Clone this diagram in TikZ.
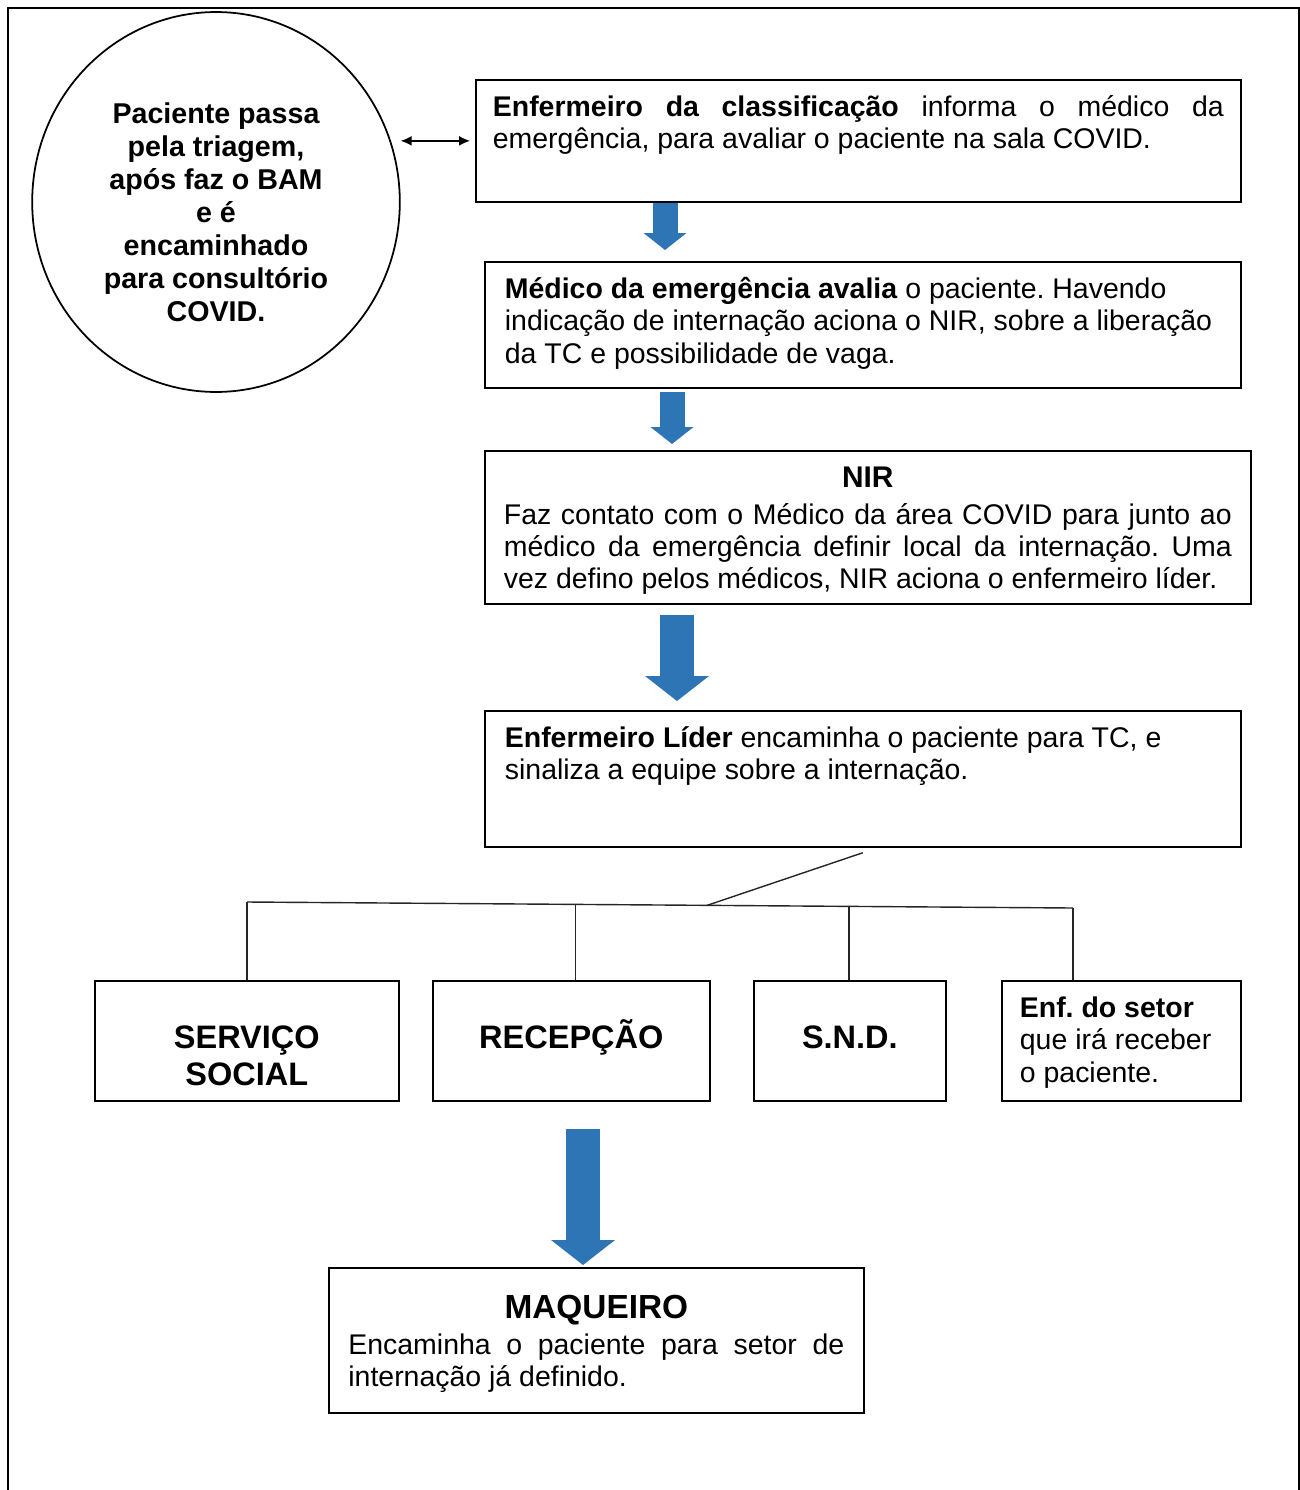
\documentclass[tikz,border=0pt]{standalone}
\usepackage{fontspec}
\setmainfont{Liberation Sans}
\usepackage{tikz}
\usetikzlibrary{shapes,arrows.meta,positioning,calc}

\definecolor{flowblue}{RGB}{46,117,182}
\newcommand{\bodysize}{\fontsize{16.2pt}{18.4pt}\selectfont}
\newcommand{\headsize}{\fontsize{18.5pt}{21pt}\selectfont}
\frenchspacing

\begin{document}
\begin{tikzpicture}[x=0.02cm, y=-0.02cm,
        box/.style={rectangle, draw=black, line width=1pt, anchor=north west, inner ysep=0.28cm, font=\bodysize},
        bluearrow/.style={draw=flowblue, line width=0.5cm, -{Triangle[width=0.86cm, length=0.34cm, line width=0pt]}},
        bigarrow/.style={draw=flowblue, line width=0.67cm, -{Triangle[width=1.28cm, length=0.5cm, line width=0pt]}},
        link/.style={draw=black!85, line width=0.8pt}]

    \useasboundingbox (0,0) rectangle (1300,1490);
    \draw[line width=1pt] (8,8) rectangle (1299,1520);

    % triagem
    \node[ellipse, draw=black, line width=1pt, minimum width=7.32cm, minimum height=7.6cm, inner sep=0pt,
          font={\fontsize{16.3pt}{18.8pt}\selectfont\bfseries}] (triagem) at (216,202)
        {\parbox{5.2cm}{\centering\vspace*{0.4cm}Paciente passa\\ pela triagem,\\ após faz o BAM\\ e é\\ encaminhado\\ para consultório\\ COVID.}};

    % caixas do fluxo
    \node[box, inner xsep=0.34cm] (classif) at (475,79)
        {\parbox[t][1.88cm][t]{14.62cm}{\strut\textbf{Enfermeiro da classificação} informa o médico da\linebreak emergência, para avaliar o paciente na sala COVID.}};
    \node[box, inner xsep=0.4cm] (medico) at (484,261)
        {\parbox[t][1.96cm][t]{14.32cm}{\raggedright\strut\textbf{Médico da emergência avalia} o paciente. Havendo\\ indicação de internação aciona o NIR, sobre a liberação\\ da TC e possibilidade de vaga.}};
    \node[box, inner xsep=0.38cm] (nir) at (484,450)
        {\parbox[t][2.5cm][t]{14.56cm}{{\centering\fontsize{17pt}{19.5pt}\selectfont\bfseries\rule{0pt}{0.46cm}NIR\par}\vspace{0.08cm}Faz contato com o Médico da área COVID para junto ao\linebreak médico da emergência definir local da internação. Uma\linebreak vez defino pelos médicos, NIR aciona o enfermeiro líder.}};
    \node[box, inner xsep=0.4cm] (lider) at (484,710)
        {\parbox[t][2.16cm][t]{14.32cm}{\raggedright\strut\textbf{Enfermeiro Líder} encaminha o paciente para TC, e\\ sinaliza a equipe sobre a internação.}};

    % setores
    \node[box, inner xsep=0.3cm] (servico) at (94,980)
        {\parbox[t][1.84cm][t]{5.48cm}{\centering\headsize\bfseries\rule{0pt}{1.08cm}SERVIÇO\\ SOCIAL}};
    \node[box, inner xsep=0.3cm] (recep) at (432,980)
        {\parbox[t][1.84cm][t]{4.94cm}{\centering\headsize\bfseries\rule{0pt}{1.08cm}RECEPÇÃO}};
    \node[box, inner xsep=0.3cm] (snd) at (753,980)
        {\parbox[t][1.84cm][t]{3.24cm}{\centering\headsize\bfseries\rule{0pt}{1.08cm}S.N.D.}};
    \node[box, inner xsep=0.36cm] (setor) at (1001,980)
        {\parbox[t][1.84cm][t]{4.06cm}{\raggedright\strut\textbf{Enf. do setor}\\ que irá receber\\ o paciente.}};

    \node[box, inner xsep=0.39cm] (maqueiro) at (328,1267)
        {\parbox[t][2.34cm][t]{9.92cm}{{\centering\fontsize{19pt}{22pt}\selectfont\bfseries\rule{0pt}{0.74cm}MAQUEIRO\par}\vspace{0.06cm}Encaminha o paciente para setor de\linebreak internação já definido.}};

    % ligacoes
    \draw[{Latex[length=0.22cm,width=0.2cm]}-{Latex[length=0.22cm,width=0.2cm]}, line width=0.8pt, shorten >=0.1cm]
        (classif.west -| triagem.east) -- (classif.west);

    \draw[bluearrow, shorten >=0.22cm] (classif.south -| 665,0) -- (medico.north -| 665,0);
    \draw[bluearrow, shorten <=0.06cm, shorten >=0.12cm] (medico.south -| 672,0) -- (nir.north -| 672,0);
    \draw[bigarrow, shorten <=0.2cm, shorten >=0.18cm] (nir.south -| 677,0) -- (lider.north -| 677,0);
    \draw[bigarrow, shorten <=0.54cm, shorten >=0.04cm] (recep.south -| 583,0) -- (maqueiro.north -| 583,0);

    \coordinate (busL) at (247,902);
    \coordinate (busR) at (1073,908);
    \coordinate (busJ) at ($(busL)!0.557!(busR)$);
    \coordinate (busB) at ($(busL)!0.398!(busR)$);
    \coordinate (busC) at ($(busL)!0.729!(busR)$);
    \draw[link] (busL) -- (busR);
    \draw[link] ([yshift=-0.1cm]lider.south) -- (busJ);
    \draw[link] (busL) -- (busL |- servico.north);
    \draw[link] (busB) -- (busB |- recep.north);
    \draw[link] (busC) -- (busC |- snd.north);
    \draw[link] (busR) -- (busR |- setor.north);

\end{tikzpicture}
\end{document}
